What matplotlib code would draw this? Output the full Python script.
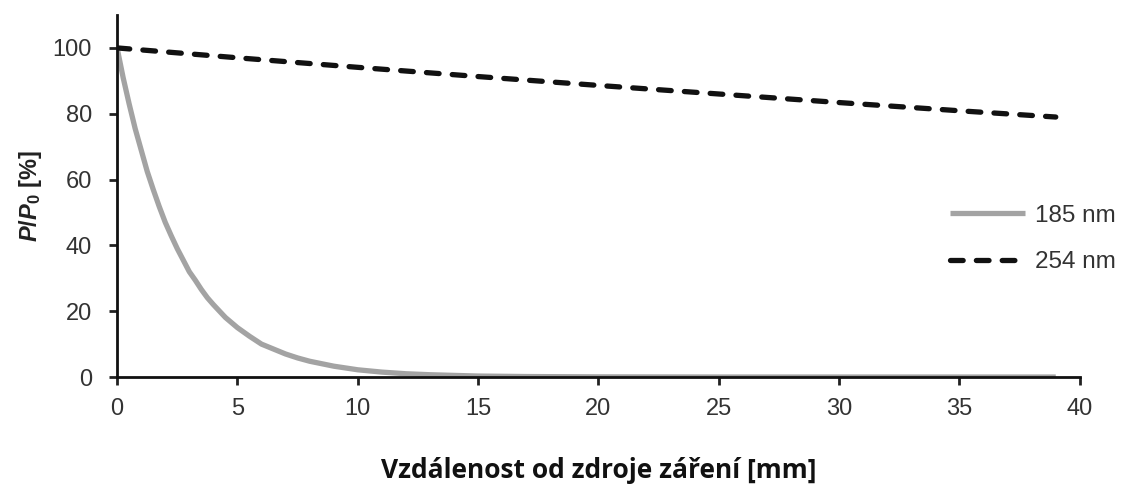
import matplotlib
matplotlib.use("Agg")
import matplotlib.pyplot as plt

# Data
x_185 = [0, 0.25, 0.5, 0.75, 1, 1.25, 1.5, 1.75, 2, 2.25, 2.5, 2.75, 3, 3.25, 3.5, 3.75, 4,
         4.5, 5, 5.5, 6, 6.5, 7, 7.5, 8, 9, 10, 11, 12, 13, 14, 15, 17, 20, 25, 30, 35, 39]
y_185 = [100, 91, 83, 75.5, 69, 62.5, 57, 51.8, 47, 42.9, 39, 35.5, 32, 29.4, 26.6, 24.1, 22,
         18.1, 15, 12.4, 10, 8.5, 7, 5.8, 4.8, 3.3, 2.2, 1.5, 1.0, 0.7, 0.5, 0.3, 0.15, 0.05,
         0, 0, 0, 0]
x_254 = [0, 5, 10, 15, 20, 25, 30, 35, 39]
y_254 = [100, 97.0, 94.1, 91.3, 88.6, 86.0, 83.4, 80.9, 79.0]
labels = ["185 nm", "254 nm"]
xticks = [0, 5, 10, 15, 20, 25, 30, 35, 40]
yticks = [0, 20, 40, 60, 80, 100]

plt.rcParams['font.family'] = ['Liberation Sans', 'DejaVu Sans']
plt.rcParams['mathtext.fontset'] = 'custom'
plt.rcParams['mathtext.it'] = 'Liberation Sans:italic:bold'
plt.rcParams['mathtext.rm'] = 'Liberation Sans:bold'

fig = plt.figure(figsize=(11.26, 4.84), dpi=100)
ax = fig.add_axes([0.104, 0.221, 0.855, 0.748])

ax.plot(x_185, y_185, color='#a3a3a3', lw=3.8, label=labels[0], solid_capstyle='butt',
        solid_joinstyle='round')
ax.plot(x_254, y_254, color='#111111', lw=3.8, dashes=(2.4, 2.5), label=labels[1],
        dash_capstyle='round')

ax.set_xlim(0, 40)
ax.set_ylim(0, 110)
ax.set_xticks(xticks)
ax.set_yticks(yticks)
ax.tick_params(axis='both', direction='out', length=6, width=2, labelsize=17,
               colors='#222222', labelcolor='#333333')
ax.tick_params(axis='y', pad=12)
ax.tick_params(axis='x', pad=9)
for s in ['top', 'right']:
    ax.spines[s].set_visible(False)
for s in ['left', 'bottom']:
    ax.spines[s].set_linewidth(2)
    ax.spines[s].set_color('#111111')

ax.set_ylabel(r'$P/P_{\mathit{0}}$ [%]', fontsize=17, fontweight='bold', color='#222222',
              labelpad=6)
ax.set_xlabel('Vzdálenost od zdroje záření [mm]', fontsize=19, fontweight='bold',
              family=['Open Sans', 'DejaVu Sans'], color='#111111', labelpad=27)

leg = ax.legend(loc='center left', bbox_to_anchor=(0.842, 0.381), frameon=False,
                fontsize=17.5, handlelength=3.1, handletextpad=0.4, labelspacing=1.0,
                labelcolor='#333333')

fig.savefig('out.png', dpi=100)
